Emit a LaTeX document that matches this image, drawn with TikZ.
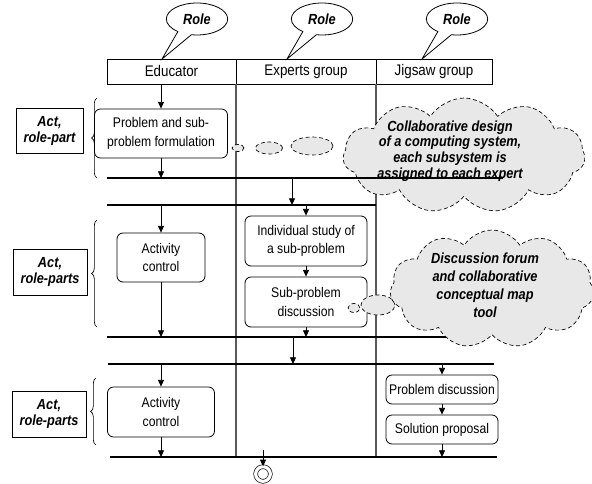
\documentclass[tikz,border=0pt]{standalone}
\usepackage{fontspec}
\setmainfont{Liberation Sans}[FakeStretch=0.87]
\usetikzlibrary{arrows.meta}
\usetikzlibrary{positioning}
\usetikzlibrary{shapes.geometric}
\usetikzlibrary{shapes.symbols}
\usetikzlibrary{shapes.callouts}
\usetikzlibrary{decorations.pathreplacing}

\tikzset{
  cell/.style={draw, minimum height=18.75pt, outer sep=0pt, inner sep=0pt, font=\fontsize{11.5}{13}\selectfont},
  activity/.style={draw, rounded corners=4.5pt, align=center, inner sep=0pt, line width=0.6pt, font=\fontsize{10.5}{14}\selectfont},
  actlabel/.style={draw, align=center, inner sep=0pt, line width=0.6pt, font=\fontsize{11}{12}\selectfont\bfseries\itshape},
  rolebubble/.style={ellipse callout, draw, fill=white, minimum width=46pt, minimum height=24pt, inner sep=0pt, callout pointer arc=28, line width=0.6pt, font=\fontsize{11}{12}\selectfont\bfseries\itshape},
  thought/.style={ellipse, draw, densely dashed, fill=gray!18, inner sep=0pt, line width=0.5pt},
  cloudy/.style={cloud, draw, densely dashed, fill=gray!18, cloud puffs=11, cloud puff arc=115, inner sep=0pt, line width=0.5pt},
  cloudtext/.style={align=center, font=\fontsize{11}{11.8}\selectfont\bfseries\itshape},
  flow/.style={-{Triangle[length=5pt,width=4.5pt]}, line width=0.6pt},
  bar/.style={line width=0.8pt},
  lane/.style={line width=0.9pt, black!65},
  brc/.style={decorate, decoration={brace, amplitude=4pt}, line width=0.5pt}
}

\begin{document}
\begin{tikzpicture}[x=0.75pt, y=-0.75pt]
    \useasboundingbox (0,0) rectangle (592,483);

    % swimlane header
    \node[cell, minimum width=96.75pt, anchor=north west] (edu) at (107,59) {Educator};
    \node[cell, minimum width=105pt, right=0pt of edu] (exp) {Experts group};
    \node[cell, minimum width=87pt, right=0pt of exp] (jig) {Jigsaw group};

    % roles
    \coordinate (r1) at (162,59);
    \coordinate (r2) at (287,59);
    \coordinate (r3) at (422,59);
    \node[rolebubble, callout absolute pointer=(r1)] (role1) at (197,19) {Role};
    \node[rolebubble, callout absolute pointer=(r2)] (role2) at (322,19) {Role};
    \node[rolebubble, callout absolute pointer=(r3)] (role3) at (457,19) {Role};

    % synchronisation bars
    \coordinate (b1w) at (107,178);  \coordinate (b1e) at (503,178);
    \coordinate (b2w) at (107,205);  \coordinate (b2e) at (376,205);
    \coordinate (b3w) at (107,337);  \coordinate (b3e) at (450,337);
    \coordinate (b4w) at (108,364);  \coordinate (b4e) at (494,364);
    \coordinate (b5w) at (110,457);  \coordinate (b5e) at (497,457);

    % lanes
    \draw[lane] (edu.south east) -- (edu.south east |- b5w);
    \draw[lane] (exp.south east) -- (exp.south east |- b5w);

    \draw[bar] (b2w) -- (b2e);
    \draw[bar] (b3w) -- (b3e);
    \draw[bar] (b4w) -- (b4e);
    \draw[bar] (b5w) -- (b5e);

    % act labels and braces
    \node[actlabel, minimum width=50.25pt, minimum height=33.75pt] (act1) at (49.5,130.5) {Act,\\role-part};
    \node[actlabel, minimum width=55.5pt, minimum height=34.5pt] (act2) at (50,272) {Act,\\role-parts};
    \node[actlabel, minimum width=55.5pt, minimum height=34.5pt] (act3) at (49,414) {Act,\\role-parts};
    \draw[brc] (97,178) -- (97,98);
    \draw[brc] (97,327) -- (97,220);
    \draw[brc] (96,445) -- (96,378);

    % activities
    \node[activity, minimum width=99.75pt, minimum height=36.75pt] (formul) at (161,133.5) {Problem and sub-\\problem formulation};
    \node[activity, minimum width=66pt, minimum height=36.75pt] (ctrl1) at (161,257.5) {Activity\\control};
    \node[activity, minimum width=91.5pt, minimum height=37.5pt] (study) at (306,241) {Individual study of\\a sub-problem};
    \node[activity, minimum width=91.5pt, minimum height=37.5pt] (subdisc) at (306,302) {Sub-problem\\discussion};
    \node[activity, minimum width=80.25pt, minimum height=37.5pt] (ctrl2) at (161,412) {Activity\\control};
    \node[activity, minimum width=84pt, minimum height=21.75pt] (probdisc) at (442,389.5) {Problem discussion};
    \node[activity, minimum width=84pt, minimum height=21.75pt] (solprop) at (442,429.5) {Solution proposal};

    % flows
    \draw[flow] (formul.north |- edu.south) -- (formul.north);
    \draw[flow] (formul.south) -- (formul.south |- b1w);
    \draw[flow] (ctrl1.north |- b2w) -- (ctrl1.north);
    \draw[flow] (ctrl1.south) -- (ctrl1.south |- b3w);
    \draw[flow] (ctrl2.north |- b4w) -- (ctrl2.north);
    \draw[flow] (ctrl2.south) -- (ctrl2.south |- b5w);
    \coordinate (j1) at (292,178);
    \draw[flow] (j1) -- (j1 |- b2w);
    \draw[flow] (study.north |- b2w) -- (study.north);
    \draw[flow] (study) -- (subdisc);
    \draw[flow] (subdisc.south) -- (subdisc.south |- b3w);
    \coordinate (j2) at (293,337);
    \draw[flow] (j2) -- (j2 |- b4w);
    \draw[flow] (probdisc.north |- b4w) -- (probdisc.north);
    \draw[flow] (probdisc) -- (solprop);
    \draw[flow] (solprop.south) -- (solprop.south |- b5w);

    % end
    \node[circle, draw, double, double distance=2.4pt, minimum size=11pt, inner sep=0pt, line width=0.5pt] (fin) at (263,474) {};
    \coordinate (j3) at (263,450);
    \draw[flow] (j3) -- (fin.north);

    % notes
    \node[thought, minimum width=9pt, minimum height=5.25pt] (t1) at (238,148) {};
    \node[thought, minimum width=20.25pt, minimum height=9pt] (t2) at (269,148) {};
    \node[thought, minimum width=31.5pt, minimum height=13.5pt] (t3) at (312,146) {};
    \node[cloudy, minimum width=181.5pt, minimum height=86.25pt] (note1) at (464,155.5) {};
    \node[cloudtext] (note1txt) at (450,151) {Collaborative design\\of a computing system,\\each subsystem is\\assigned to each expert};
    \node[thought, minimum width=9pt, minimum height=6.75pt] (s1) at (354,308) {};
    \node[thought, minimum width=25.5pt, minimum height=15pt] (s2) at (378,305) {};
    \node[cloudy, minimum width=153pt, minimum height=88.5pt] (note2) at (492,289) {};
    \node[cloudtext, font=\fontsize{11}{13.5}\selectfont\bfseries\itshape] (note2txt) at (485,285) {Discussion forum\\and collaborative\\conceptual map\\tool};
    \draw[bar] (b1w) -- (b1e);
\end{tikzpicture}
\end{document}
